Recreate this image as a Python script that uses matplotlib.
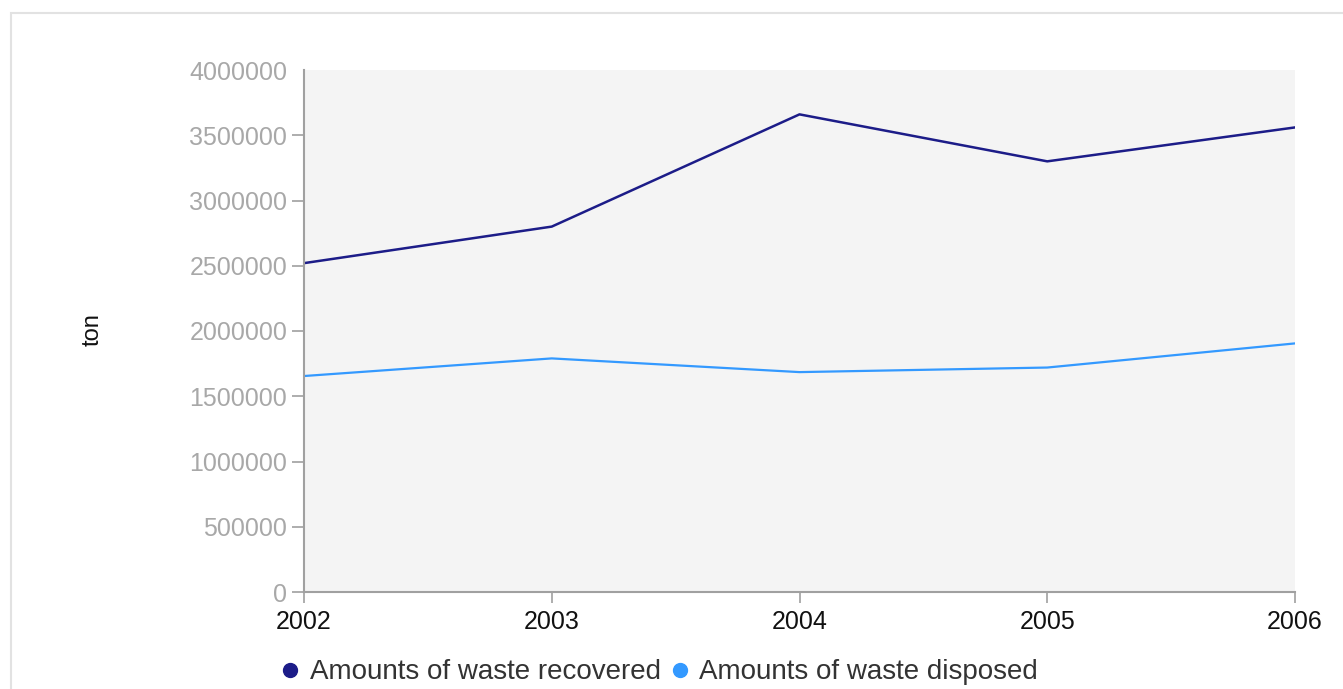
import matplotlib.pyplot as plt
from matplotlib.patches import Rectangle

years = [2002, 2003, 2004, 2005, 2006]
recovered = [2520000, 2800000, 3660000, 3300000, 3560000]
disposed = [1655000, 1790000, 1685000, 1720000, 1905000]
y_ticks = [0, 500000, 1000000, 1500000, 2000000, 2500000, 3000000, 3500000, 4000000]

plt.rcParams["font.family"] = ["Liberation Sans", "DejaVu Sans"]

fig = plt.figure(figsize=(13.43, 6.89), dpi=100)
W, H = 1343, 689
ax = fig.add_axes([304 / W, 1 - 592 / H, (1295 - 304) / W, (592 - 70) / H])

# outer light border of the chart container
fig.patches.append(Rectangle((11 / W, -0.01), 1.0, 1 - 13 / H + 0.01, transform=fig.transFigure,
                             facecolor="white", edgecolor="#e2e2e2", linewidth=1.5, zorder=-1))

ax.set_facecolor("#f4f4f4")
ax.plot(years, recovered, color="#1c1c88", linewidth=1.8, label="Amounts of waste recovered")
ax.plot(years, disposed, color="#3399ff", linewidth=1.6, label="Amounts of waste disposed")

ax.set_xlim(2002, 2006)
ax.set_ylim(0, 4000000)
ax.set_xticks(years)
ax.set_xticklabels([str(y) for y in years])
ax.set_yticks(y_ticks)
ax.set_yticklabels([str(v) for v in y_ticks])

for side in ["top", "right"]:
    ax.spines[side].set_visible(False)
for side in ["left", "bottom"]:
    ax.spines[side].set_color("#a0a0a0")
    ax.spines[side].set_linewidth(1.5)

ax.tick_params(axis="y", colors="#a0a0a0", labelcolor="#a8a8a8", labelsize=18, length=9, width=1.2, pad=3)
ax.tick_params(axis="x", colors="#a0a0a0", labelcolor="#111111", labelsize=18, length=8, width=1.2, pad=5)
ax.yaxis.get_major_ticks()[-1].tick1line.set_visible(False)

fig.text(93 / W, 1 - 330 / H, "ton", rotation=90, ha="center", va="center", fontsize=17, color="#111111")

leg = ax.legend(loc="center left", bbox_to_anchor=(-0.035, -0.154), ncol=2, frameon=False,
                fontsize=20, handlelength=0.7, handletextpad=0.35, columnspacing=0.35,
                labelcolor="#333333", borderaxespad=0)
for h, c in zip(leg.legend_handles, ["#1c1c88", "#3399ff"]):
    h.set_linestyle("none")
    h.set_marker("o")
    h.set_markersize(10)
    h.set_markerfacecolor(c)
    h.set_markeredgecolor(c)

fig.savefig("out.png", dpi=100)
